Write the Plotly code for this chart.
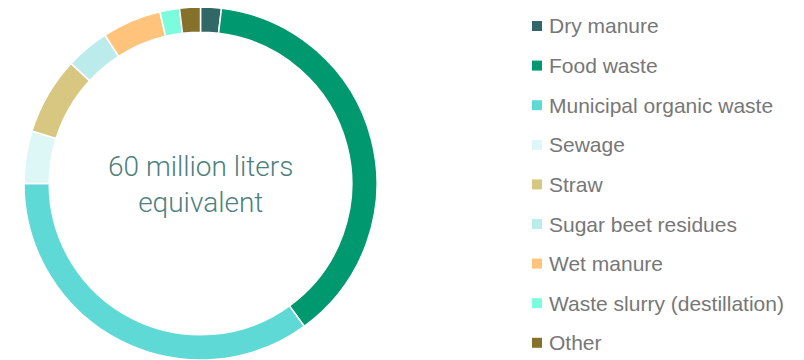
import plotly.graph_objects as go

# Feedstock shares (percent of total)
labels = [
    "Dry manure",
    "Food waste",
    "Municipal organic waste",
    "Sewage",
    "Straw",
    "Sugar beet residues",
    "Wet manure",
    "Waste slurry (destillation)",
    "Other",
]
values = [1.9, 38.1, 35.0, 4.8, 7.1, 4.0, 5.4, 1.8, 1.9]
colors = [
    "#316767", "#00996f", "#5fd9d6", "#ddf6f6", "#d8c781",
    "#bbeceb", "#ffc37b", "#7cfcdc", "#86712b",
]
center_text = "60 million liters<br>equivalent"

W, H = 804, 360

fig = go.Figure(
    go.Pie(
        labels=labels,
        values=values,
        marker=dict(colors=colors, line=dict(color="white", width=1.5)),
        hole=0.857,
        sort=False,
        direction="clockwise",
        rotation=0,
        textinfo="none",
        hoverinfo="label+percent",
        showlegend=False,
        domain=dict(x=[24 / W, 377 / W], y=[0, 353 / H]),
    )
)

# Custom legend: square swatches with labels, evenly spaced on the right
top_y, step = 26, 39.6
shapes, annotations = [], []
for i, (lab, col) in enumerate(zip(labels, colors)):
    yc = top_y + i * step
    shapes.append(dict(
        type="rect", xref="paper", yref="paper",
        x0=532 / W, x1=542 / W,
        y0=1 - (yc + 5) / H, y1=1 - (yc - 5) / H,
        fillcolor=col, line=dict(width=0),
    ))
    annotations.append(dict(
        x=547 / W, y=1 - yc / H, xref="paper", yref="paper",
        text=lab, showarrow=False, xanchor="left", yanchor="middle",
        font=dict(family="Liberation Sans, Arial, sans-serif", size=21, color="#777777"),
    ))

annotations.append(dict(
    x=200.5 / W, y=1 - 184 / H, xref="paper", yref="paper",
    text=center_text, showarrow=False, xanchor="center", yanchor="middle",
    font=dict(family="Roboto, sans-serif", size=28, color="#4e7f7d", weight=300),
))

fig.update_layout(
    width=W, height=H,
    margin=dict(l=0, r=0, t=0, b=0),
    paper_bgcolor="white",
    plot_bgcolor="white",
    shapes=shapes,
    annotations=annotations,
)

fig.write_html("out.html")
